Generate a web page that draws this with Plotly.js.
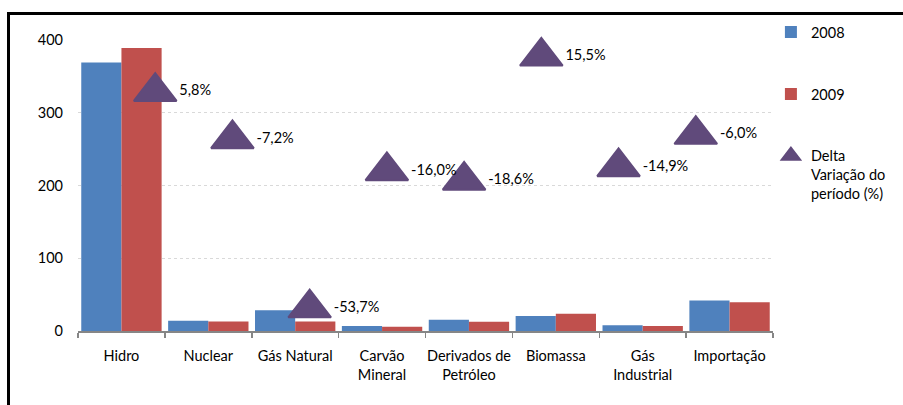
<!DOCTYPE html>
<html>
<head>
<meta charset="utf-8">
<script src="https://cdn.plot.ly/plotly-3.0.1.min.js"></script>
<style>
  html, body { margin: 0; padding: 0; background: #fff; overflow: hidden; }
  #chart { width: 903px; height: 405px; position: absolute; left: 0; top: 0; }
  #frame { position: absolute; left: 7px; top: 12px; width: 1000px; height: 600px;
           border-top: 3px solid #000; border-left: 3px solid #000; pointer-events: none; }
</style>
</head>
<body>
<div id="chart"></div>
<div id="frame"></div>
<script>
// Categories (tick labels)
const categories = ["Hidro", "Nuclear", "Gás Natural", "Carvão<br>Mineral",
                    "Derivados de<br>Petróleo", "Biomassa", "Gás<br>Industrial", "Importação"];
// Series values
const values2008 = [369, 14.0, 28.5, 6.8, 15.5, 20.5, 8.0, 42];
const values2009 = [389, 13.0, 13.2, 5.7, 12.6, 23.7, 6.8, 39.5];
const deltaPct   = [5.8, -7.2, -53.7, -16.0, -18.6, 15.5, -14.9, -6.0];

const FONT = "Lato, 'Noto Sans', sans-serif";
const deltaLabels = deltaPct.map(d => d.toFixed(1).replace('.', ',') + '%');

const traces = [
  {
    type: 'bar', name: '2008', x: categories, y: values2008,
    marker: { color: '#4F81BD' }, legendgroup: 'a', hoverinfo: 'skip'
  },
  {
    type: 'bar', name: '2009', x: categories, y: values2009,
    marker: { color: '#C0504D' }, legendgroup: 'b', hoverinfo: 'skip'
  },
  {
    type: 'scatter', mode: 'markers+text', name: 'Delta<br>Variação do<br>período (%)',
    x: categories, y: deltaPct, xaxis: 'x2', yaxis: 'y2',
    marker: { symbol: 'triangle-up', size: 37, color: '#604A7B',
              line: { width: 2, color: '#604A7B' } },
    text: deltaLabels, textposition: 'middle right',
    textfont: { family: FONT, size: 14.5, color: '#000' },
    cliponaxis: false, legendgroup: 'c', hoverinfo: 'skip'
  }
];

const layout = {
  width: 903, height: 405,
  margin: { l: 78, r: 124, t: 40, b: 73.5 },
  paper_bgcolor: '#fff', plot_bgcolor: '#fff',
  font: { family: FONT, size: 14.5, color: '#000' },
  barmode: 'group', bargap: 0.075, bargroupgap: 0,
  showlegend: true,
  legend: {
    x: 0.997, xanchor: 'left', y: 1.082, yanchor: 'top',
    itemwidth: 30, tracegroupgap: 40, valign: 'top',
    font: { family: FONT, size: 14.5, color: '#000' },
    bgcolor: 'rgba(0,0,0,0)'
  },
  xaxis: {
    type: 'category', tickson: 'boundaries', ticks: 'outside', ticklen: 5,
    tickcolor: '#868686', tickwidth: 1.5, tickangle: 0,
    ticklabelstandoff: 11,
    showline: true, linecolor: '#868686', linewidth: 2,
    showgrid: false, zeroline: false,
    tickfont: { family: FONT, size: 14.5, color: '#000' }
  },
  yaxis: {
    range: [0, 400], dtick: 100, tick0: 0,
    showline: false, ticks: '', zeroline: false,
    showgrid: true, gridcolor: '#D9D9D9', gridwidth: 1, griddash: 'dot',
    ticklabelstandoff: 14,
    tickfont: { family: FONT, size: 14.5, color: '#000' }
  },
  xaxis2: {
    type: 'category', overlaying: 'x', range: [-1, 8], visible: false
  },
  yaxis2: {
    overlaying: 'y', side: 'right', range: [-60, 20], visible: false
  }
};

Plotly.newPlot('chart', traces, layout, { displayModeBar: false, staticPlot: true });
</script>
</body>
</html>
